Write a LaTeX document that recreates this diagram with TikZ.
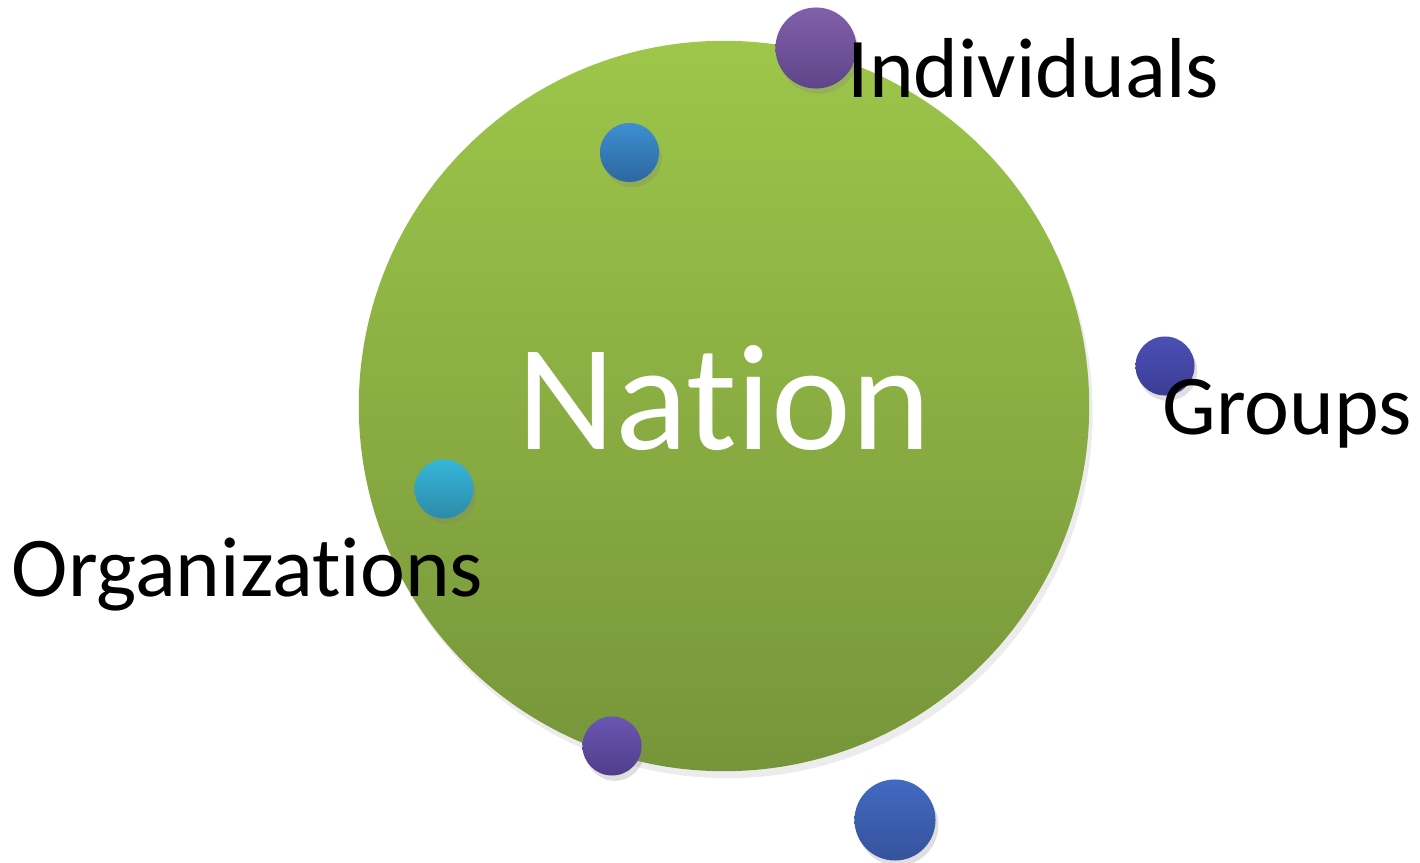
\documentclass[tikz,border=0pt]{standalone}
\usepackage{fontspec}
\setmainfont{Carlito}[Ligatures=NoCommon]
\usetikzlibrary{shadows}

\definecolor{natTop}{HTML}{9DC64A}
\definecolor{natBot}{HTML}{76953A}
\definecolor{purTop}{HTML}{8160AA}
\definecolor{purBot}{HTML}{5E4488}
\definecolor{bluTop}{HTML}{3D8FD2}
\definecolor{bluBot}{HTML}{2D679E}
\definecolor{indTop}{HTML}{4B50B4}
\definecolor{indBot}{HTML}{3C3C96}
\definecolor{cyaTop}{HTML}{36B6DA}
\definecolor{cyaBot}{HTML}{2D8AA8}
\definecolor{vioTop}{HTML}{6B56B2}
\definecolor{vioBot}{HTML}{4F3D8A}
\definecolor{royTop}{HTML}{416AC2}
\definecolor{royBot}{HTML}{36529C}

\begin{document}
\begin{tikzpicture}[x=0.01cm,y=0.01cm,line join=round,line cap=round,
    dot/.style={circle,inner sep=0pt,minimum size=0.59cm,
      drop shadow={shadow xshift=0.8pt,shadow yshift=-1.5pt,opacity=0.25}},
    bigdot/.style={dot,minimum size=0.81cm},
    lbl/.style={anchor=base west,inner sep=0pt,font=\fontsize{24.2}{29}\selectfont}]
  \useasboundingbox (0,0) rectangle (1420,863);

  % Nation circle
  \node[circle,inner sep=0pt,minimum size=7.3cm,top color=natTop,bottom color=natBot,
    drop shadow={shadow xshift=1pt,shadow yshift=-2pt,opacity=0.15}] (nation) at (724,457) {};

  % Small dots
  \node[bigdot,top color=purTop,bottom color=purBot] (indDot) at (816,815) {};
  \node[dot,top color=bluTop,bottom color=bluBot] (topDot) at (629.5,710.5) {};
  \node[dot,top color=indTop,bottom color=indBot] (grpDot) at (1165,497) {};
  \node[dot,top color=cyaTop,bottom color=cyaBot] (orgDot) at (444,374) {};
  \node[dot,top color=vioTop,bottom color=vioBot] (lowDot) at (612,117) {};
  \node[bigdot,top color=royTop,bottom color=royBot] (botDot) at (895,43) {};

  % Labels
  \node[anchor=base,inner sep=0pt,text=white,font=\fontsize{43}{51}\selectfont] (nationTxt) at (724,413) {Nation};
  \node[lbl] (ind) at (847,765) {Individuals};
  \node[lbl] (grp) at (1162,428) {Groups};
  \node[lbl] (org) at (11,266) {Organizations};
\end{tikzpicture}
\end{document}
